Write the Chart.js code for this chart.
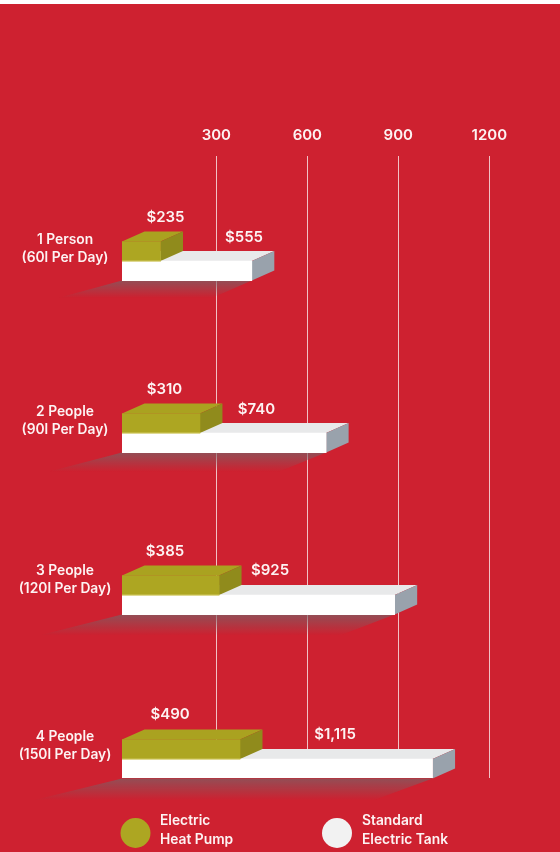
<!DOCTYPE html>
<html>
<head>
<meta charset="utf-8">
<script src="https://cdn.jsdelivr.net/npm/chart.js@4/dist/chart.umd.min.js"></script>
<style>
  html, body { margin: 0; padding: 0; }
  body { width: 560px; height: 852px; overflow: hidden; background: linear-gradient(#fff 0 4px, #ce2130 4px); }
  canvas { display: block; }
</style>
</head>
<body>
<canvas id="costChart" width="560" height="852"></canvas>
<script>
const rowLines = [['1 Person', '(60l Per Day)'], ['2 People', '(90l Per Day)'], ['3 People', '(120l Per Day)'], ['4 People', '(150l Per Day)']];
const seriesNames = [['Electric', 'Heat Pump'], ['Standard', 'Electric Tank']];
const tickValues = [300, 600, 900, 1200];

// printed costs
const heatPumpCost = ['$235', '$310', '$385', '$490'];
const tankCost = ['$555', '$740', '$925', '$1,115'];

// front face ends as drawn, read against the axis (the artwork is not to scale with its labels)
const heatPumpBar = [116, 246, 309, 378];
const tankBar = [417, 662, 888, 1013];

// rows are not evenly spaced in the artwork
const rowPlace = [1, 2.036, 3.012, 4];

const axisStart = -11;
const olive = { front: '#ada622', top: '#aaa220', side: '#908b1c' };
const white = { front: '#ffffff', top: '#e8e9ea', side: '#99a2ac' };
const depthX = 22.5, depthY = 10;
const font = (size) => `600 ${size}px Inter, "Liberation Sans", sans-serif`;

function poly(ctx, pts, fill) {
    ctx.beginPath();
    pts.forEach((p, i) => i ? ctx.lineTo(p[0], p[1]) : ctx.moveTo(p[0], p[1]));
    ctx.closePath();
    ctx.fillStyle = fill;
    ctx.fill();
}

function drawBox(ctx, bar, c) {
    const top = bar.y - bar.height / 2, bottom = bar.y + bar.height / 2;
    poly(ctx, [[bar.base, top], [bar.x, top], [bar.x + depthX, top - depthY], [bar.base + depthX, top - depthY]], c.top);
    poly(ctx, [[bar.x, top], [bar.x + depthX, top - depthY], [bar.x + depthX, bottom - depthY], [bar.x, bottom]], c.side);
}

function drawShadow(ctx, bar) {
    const bottom = bar.y + bar.height / 2;
    const len = bar.x - bar.base;
    const drop = 14 + len * 0.025;
    const g = ctx.createLinearGradient(0, bottom, 0, bottom + drop);
    g.addColorStop(0, 'rgba(125,95,100,0.72)');
    g.addColorStop(1, 'rgba(125,95,100,0)');
    poly(ctx, [[bar.base, bottom], [bar.x, bottom], [bar.x - 25 - len * 0.11, bottom + drop], [bar.base - 45 - len * 0.14, bottom + drop]], g);
}

const boxes = {
    id: 'boxes',
    beforeDatasetsDraw(chart) {
        const ctx = chart.ctx;
        const pump = chart.getDatasetMeta(0).data, tank = chart.getDatasetMeta(1).data;
        ctx.save();
        tank.forEach(b => drawShadow(ctx, b));
        tank.forEach(b => drawBox(ctx, b, white));
        pump.forEach(b => drawBox(ctx, b, olive));
        ctx.restore();
    }
};

// text positions for the printed values and the row names
const pumpLabelX = [165.5, 164.5, 165, 170];
const tankLabelX = [244, 256.5, 270, 335];
const valueLift = [14, 14, 14.5, 15];
const rowLabelShift = [-12.5, -12.5, -15, -13.5];

const texts = {
    id: 'texts',
    afterDraw(chart) {
        const ctx = chart.ctx;
        const pump = chart.getDatasetMeta(0).data, tank = chart.getDatasetMeta(1).data;
        ctx.save();
        ctx.fillStyle = '#fdf3f3';
        ctx.textBaseline = 'middle';
        ctx.font = font(15);
        ctx.textAlign = 'center';
        pump.forEach((b, i) => ctx.fillText(heatPumpCost[i], pumpLabelX[i], b.y - b.height / 2 - depthY - valueLift[i]));
        tank.forEach((b, i) => ctx.fillText(tankCost[i], tankLabelX[i], b.y - b.height / 2 - depthY - valueLift[i]));

        ctx.font = font(13.8);
        pump.forEach((b, i) => {
            const mid = b.y + b.height / 2 + rowLabelShift[i];
            ctx.fillText(rowLines[i][0], 65, mid - 9.2);
            ctx.fillText(rowLines[i][1], 65, mid + 9.2);
        });

        // faint seam where the olive box sits on the white one
        ctx.fillStyle = 'rgba(240,232,150,0.6)';
        pump.forEach(b => ctx.fillRect(b.base, b.y + b.height / 2 - 0.5, b.x - b.base, 1));

        // legend
        const keys = [[135.5, olive.front, 160], [337, '#f2f2f2', 362]];
        keys.forEach((k, i) => {
            ctx.beginPath();
            ctx.arc(k[0], 833, 15, 0, Math.PI * 2);
            ctx.fillStyle = k[1];
            ctx.fill();
            ctx.fillStyle = '#fdf3f3';
            ctx.textAlign = 'left';
            ctx.font = font(13.8);
            ctx.fillText(seriesNames[i][0], k[2], 820.5);
            ctx.fillText(seriesNames[i][1], k[2], 839.5);
        });
        ctx.restore();
    }
};

new Chart(document.getElementById('costChart'), {
    type: 'bar',
    data: {
        datasets: [
            { label: seriesNames[0].join(' '), data: rowPlace.map((y, i) => ({ x: heatPumpBar[i], y })), backgroundColor: olive.front, base: axisStart },
            { label: seriesNames[1].join(' '), data: rowPlace.map((y, i) => ({ x: tankBar[i], y })), backgroundColor: white.front, base: axisStart }
        ]
    },
    options: {
        indexAxis: 'y',
        responsive: false,
        animation: false,
        datasets: { bar: { barThickness: 19.5, borderWidth: 0 } },
        layout: { padding: { left: 122, right: 70.7, top: 0, bottom: 74 } },
        plugins: { legend: { display: false }, tooltip: { enabled: false } },
        scales: {
            x: {
                type: 'linear',
                position: 'top',
                min: axisStart,
                max: 1200,
                afterBuildTicks: s => { s.ticks = tickValues.map(value => ({ value })); },
                afterFit: s => { s.height = 156; },
                border: { display: false },
                grid: { color: 'rgba(255,255,255,0.72)', lineWidth: 1, drawTicks: false },
                ticks: {
                    color: '#fdf3f3',
                    font: { family: 'Inter, "Liberation Sans", sans-serif', size: 15, weight: '600' },
                    padding: 12,
                    maxRotation: 0,
                    callback: v => String(v)
                }
            },
            y: { type: 'linear', display: false, reverse: true, offset: false, min: 0.367, max: 4.114 }
        }
    },
    plugins: [boxes, texts]
});
</script>
</body>
</html>
